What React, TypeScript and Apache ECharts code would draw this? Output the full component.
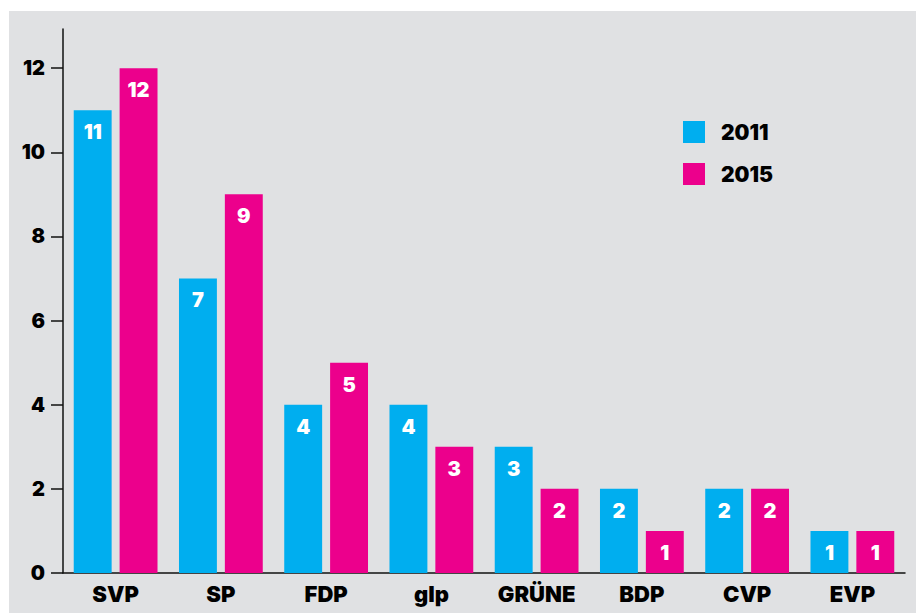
import React, { useEffect, useRef } from "react";
import * as echarts from "echarts";

const categories = ["SVP", "SP", "FDP", "glp", "GRÜNE", "BDP", "CVP", "EVP"];
const seriesNames = ["2011", "2015"];
const values2011 = [11, 7, 4, 4, 3, 2, 2, 1];
const values2015 = [12, 9, 5, 3, 2, 1, 2, 1];
const yTicks = [0, 2, 4, 6, 8, 10, 12];
const colors = ["#00aeef", "#ec008c"];

const FONT = "Inter";

export default function App() {
  const ref = useRef<HTMLDivElement>(null);
  useEffect(() => {
    if (!ref.current) return;
    const chart = echarts.init(ref.current, undefined, { renderer: "svg" });
    const labelStyle = {
      show: true,
      position: "insideTop",
      distance: 12,
      color: "#ffffff",
      fontFamily: FONT,
      fontWeight: 900,
      fontSize: 20,
    };
    chart.setOption({
      animation: false,
      backgroundColor: "transparent",
      color: colors,
      legend: {
        orient: "vertical",
        left: 683,
        top: 121,
        padding: 0,
        itemWidth: 22,
        itemHeight: 22,
        itemGap: 20,
        icon: "rect",
        data: seriesNames,
        textStyle: {
          fontFamily: FONT,
          fontWeight: 900,
          fontSize: 21,
          color: "#000",
          padding: [0, 0, 0, 11],
        },
      },
      grid: { left: 63, right: 17, top: 29, bottom: 40, containLabel: false },
      xAxis: {
        type: "category",
        data: categories,
        axisLine: { lineStyle: { color: "#111", width: 1.5 } },
        axisTick: { show: false },
        axisLabel: {
          color: "#000",
          fontFamily: FONT,
          fontWeight: 900,
          fontSize: 22,
          margin: 10,
        },
      },
      yAxis: {
        type: "value",
        min: 0,
        max: 12.93,
        axisLine: { show: true, lineStyle: { color: "#111", width: 1.5 } },
        axisTick: {
          show: true,
          length: 12,
          customValues: yTicks,
          lineStyle: { color: "#111", width: 1.5 },
        },
        axisLabel: {
          customValues: yTicks,
          color: "#000",
          fontFamily: FONT,
          fontWeight: 900,
          fontSize: 20,
          margin: 18,
        },
        splitLine: { show: false },
      },
      series: [
        {
          name: seriesNames[0],
          type: "bar",
          data: values2011,
          barGap: "21%",
          barCategoryGap: "20.4%",
          label: labelStyle,
        },
        {
          name: seriesNames[1],
          type: "bar",
          data: values2015,
          barGap: "21%",
          barCategoryGap: "20.4%",
          label: labelStyle,
        },
      ],
    });
    return () => chart.dispose();
  }, []);
  return (
    <div
      style={{
        position: "fixed",
        left: 0,
        top: 0,
        width: 922,
        height: 613,
        background: "#ffffff",
      }}
    >
      <div
        style={{
          position: "absolute",
          left: 9,
          top: 11,
          width: 907,
          height: 602,
          background: "#e0e1e3",
        }}
      />
      <div
        ref={ref}
        style={{ position: "absolute", left: 0, top: 0, width: 922, height: 613 }}
      />
    </div>
  );
}
